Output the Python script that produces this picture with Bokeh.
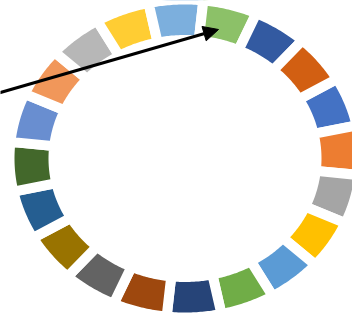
import numpy as np
from bokeh.plotting import figure
from bokeh.models import Range1d, Arrow, NormalHead, ColumnDataSource
from bokeh.embed import file_html
from bokeh.resources import INLINE

# ---- data ----
categories = ["1", "2", "3", "4", "5", "6", "7", "8", "9", "10",
              "11", "12", "13", "14", "15", "16", "17", "18", "19", "20"]
values = [5, 5, 5, 5, 5, 5, 5, 5, 5, 5,
          5, 5, 5, 5, 5, 5, 5, 5, 5, 5]
colors = ["#4472C4", "#ED7D31", "#A5A5A5", "#FFC000", "#5B9BD5", "#70AD47",
          "#264478", "#9E480E", "#636363", "#997300", "#255E91", "#43682B",
          "#698ED0", "#F1975A", "#B7B7B7", "#FFCD33", "#7CAFDD", "#8CC168",
          "#335AA1", "#D25F12"]
first_slice_angle = 60  # degrees, clockwise from top

# ---- layout (pixel-like data space) ----
W, H = 352, 318
cx, cy = 184.5, 158.0
gap = 10
rx_out, ry_out = 170.5 + gap / 2, 154.0 + gap / 2
rx_in, ry_in = 136.5 - gap / 2, 123.5 - gap / 2

vals = np.array(values, dtype=float)
total = vals.sum()
edges = first_slice_angle + np.concatenate([[0], np.cumsum(vals)]) / total * 360.0

xs, ys = [], []
for i in range(len(vals)):
    a = np.radians(np.linspace(edges[i], edges[i + 1], 30))
    ox = cx + rx_out * np.sin(a)
    oy = cy - ry_out * np.cos(a)
    ix = cx + rx_in * np.sin(a[::-1])
    iy = cy - ry_in * np.cos(a[::-1])
    xs.append(list(np.concatenate([ox, ix])))
    ys.append(list(np.concatenate([oy, iy])))

src = ColumnDataSource(dict(xs=xs, ys=ys, color=colors, cat=categories, val=values))

p = figure(width=W, height=H, output_backend="svg", toolbar_location=None,
           x_range=Range1d(0, W), y_range=Range1d(H, 0),
           x_axis_type=None, y_axis_type=None, min_border=0)
p.grid.visible = False
p.outline_line_color = None
p.background_fill_color = "white"
p.border_fill_color = "white"

p.patches("xs", "ys", source=src, fill_color="color", line_color="white",
          line_width=gap, line_join="miter")

arrow = Arrow(x_start=-2, y_start=92.6, x_end=218, y_end=29,
              line_color="black", line_width=3,
              end=NormalHead(size=15, fill_color="black", line_color="black", line_width=1))
p.add_layout(arrow)

open("out.html", "w").write(file_html(p, INLINE))
